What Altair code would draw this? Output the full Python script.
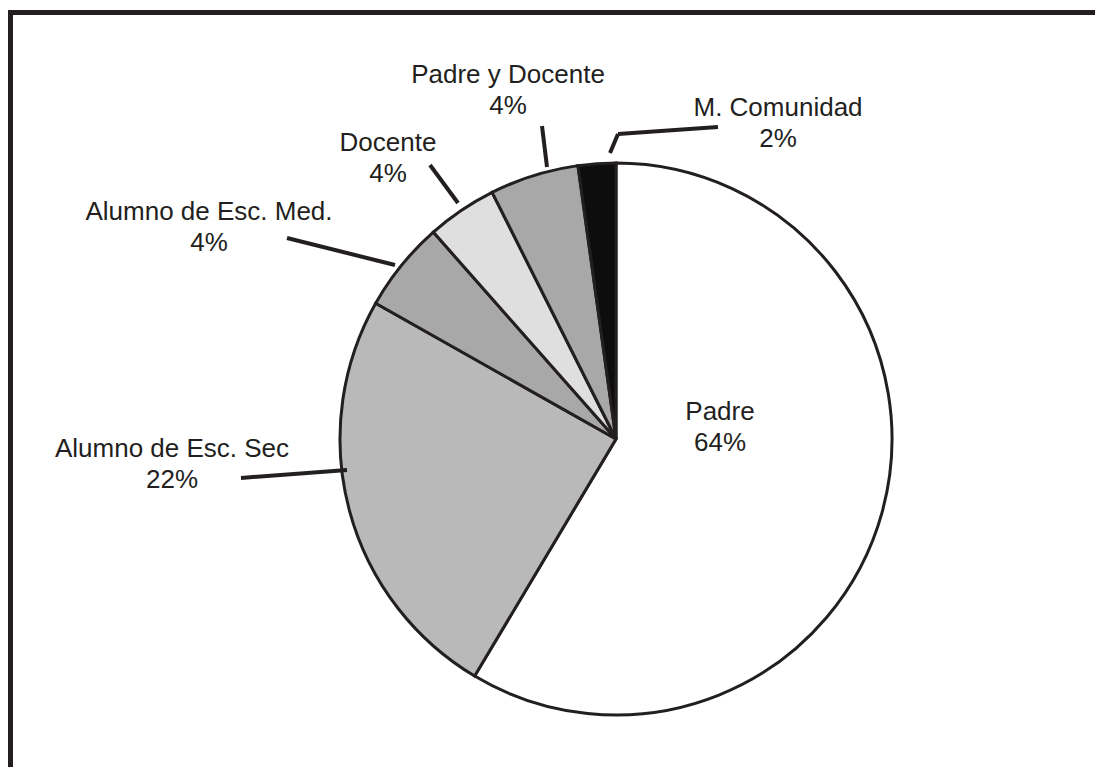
import altair as alt
import pandas as pd

# ---- data ----
categories = ["Padre", "Alumno de Esc. Sec", "Alumno de Esc. Med.",
              "Docente", "Padre y Docente", "M. Comunidad"]
# slice sizes as drawn (angles measured on the picture)
shares = [58.5, 24.6, 5.3, 4.1, 5.2, 2.2]
# percentage texts as printed on the chart
pct_labels = ["64%", "22%", "4%", "4%", "4%", "2%"]

# ---- styles ----
fills = ["#ffffff", "#b9b9b9", "#a8a8a8", "#dfdfdf", "#a8a8a8", "#0d0d0d"]
INK = "#231f20"
FONT = "Liberation Sans"
FS = 26
LH = 31

W, H = 1087, 759
CX, CY, R = 608, 431, 276

# ---- annotation layout (pixels inside the plot area): first-line centre ----
label_pos = {
    "Padre": (712, 404),
    "Alumno de Esc. Sec": (164, 441),
    "Alumno de Esc. Med.": (201, 204),
    "Docente": (380, 135),
    "Padre y Docente": (500, 67),
    "M. Comunidad": (770, 100),
}
# leader line segments
leaders = [
    (233, 470, 339, 462),
    (279, 230, 387, 257),
    (422, 157, 450, 195),
    (534, 118, 539, 159),
    (710, 119, 610, 126),
    (610, 126, 602, 145),
]

df = pd.DataFrame({
    "category": categories,
    "share": shares,
    "idx": list(range(len(categories))),
})

pie = alt.Chart(df).mark_arc(
    outerRadius=R, stroke=INK, strokeWidth=3, strokeJoin="miter"
).encode(
    theta=alt.Theta("share:Q", stack=True),
    order=alt.Order("idx:Q"),
    color=alt.Color("category:N", scale=alt.Scale(domain=categories, range=fills), legend=None),
    x=alt.value(CX),
    y=alt.value(CY),
)

rows = []
for cat, pct in zip(categories, pct_labels):
    x, y = label_pos[cat]
    rows.append({"t": cat + "\n" + pct, "px": x, "py": y})
tdf = pd.DataFrame(rows)

texts = alt.Chart(tdf).mark_text(
    align="center", baseline="middle", font=FONT, fontSize=FS, color=INK,
    lineBreak="\n", lineHeight=LH,
).encode(
    x=alt.X("px:Q", scale=None, axis=None),
    y=alt.Y("py:Q", scale=None, axis=None),
    text="t:N",
)

ldf = pd.DataFrame(leaders, columns=["x1", "y1", "x2", "y2"])
lines = alt.Chart(ldf).mark_rule(strokeWidth=4, color=INK, strokeCap="butt").encode(
    x=alt.X("x1:Q", scale=None, axis=None),
    y=alt.Y("y1:Q", scale=None, axis=None),
    x2="x2:Q",
    y2="y2:Q",
)

one = pd.DataFrame({"k": [0]})
frame_left = alt.Chart(one).mark_rule(strokeWidth=5, color=INK).encode(
    x=alt.value(2.5), y=alt.value(2), y2=alt.value(H + 10)
)
frame_top = alt.Chart(one).mark_rule(strokeWidth=5, color=INK).encode(
    x=alt.value(0), x2=alt.value(W + 10), y=alt.value(4.5)
)

chart = alt.layer(pie, lines, texts, frame_left, frame_top).properties(
    width=W, height=H, autosize=alt.AutoSizeParams(type="none"), padding=0,
    background="white",
).configure_view(stroke=None)

chart.save("out.html", embed_options={"renderer": "svg", "actions": False})
